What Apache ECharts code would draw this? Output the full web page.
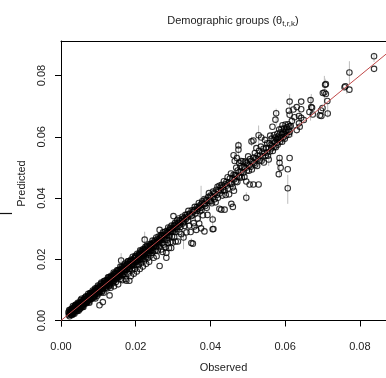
<!DOCTYPE html>
<html>
<head>
<meta charset="utf-8">
<title>Demographic groups</title>
<script src="https://cdn.jsdelivr.net/npm/echarts@6/dist/echarts.min.js"></script>
<style>
  html, body { margin: 0; padding: 0; background: #fff; }
  #chart { width: 386px; height: 378px; }
</style>
</head>
<body>
<div id="chart"></div>
<script>
// [observed, predicted] pairs
const lowBand = [
  [0.0020,0.0027],[0.0021,0.0018],[0.0022,0.0034],[0.0023,0.0014],[0.0024,0.0026],[0.0026,0.0020],
  [0.0026,0.0031],[0.0027,0.0026],[0.0028,0.0038],[0.0029,0.0023],[0.0030,0.0018],[0.0031,0.0034],
  [0.0032,0.0047],[0.0033,0.0029],[0.0034,0.0026],[0.0034,0.0035],[0.0035,0.0044],[0.0036,0.0022],
  [0.0037,0.0035],[0.0038,0.0044],[0.0039,0.0032],[0.0040,0.0051],[0.0041,0.0038],[0.0042,0.0046],
  [0.0043,0.0043],[0.0044,0.0039],[0.0045,0.0058],[0.0046,0.0036],[0.0047,0.0055],[0.0048,0.0045],
  [0.0049,0.0051],[0.0050,0.0037],[0.0051,0.0057],[0.0052,0.0051],[0.0053,0.0067],[0.0054,0.0047],
  [0.0055,0.0058],[0.0056,0.0045],[0.0057,0.0066],[0.0058,0.0054],[0.0059,0.0060],[0.0060,0.0044],
  [0.0061,0.0066],[0.0062,0.0060],[0.0063,0.0074],[0.0064,0.0056],[0.0065,0.0069],[0.0066,0.0061],
  [0.0067,0.0079],[0.0068,0.0056],[0.0069,0.0071],[0.0070,0.0067],[0.0071,0.0079],[0.0072,0.0063],
  [0.0073,0.0087],[0.0074,0.0073],[0.0075,0.0080],[0.0076,0.0058],[0.0077,0.0080],[0.0078,0.0072],
  [0.0079,0.0089],[0.0080,0.0078],[0.0081,0.0088],[0.0082,0.0071],[0.0083,0.0084],[0.0084,0.0079],
  [0.0085,0.0098],[0.0086,0.0078],[0.0087,0.0091],[0.0088,0.0074],[0.0089,0.0098],[0.0090,0.0087],
  [0.0091,0.0097],[0.0092,0.0072],[0.0093,0.0095],[0.0094,0.0087],[0.0095,0.0106],[0.0096,0.0095],
  [0.0097,0.0102],[0.0098,0.0088],[0.0099,0.0114],[0.0100,0.0096],
  [0.0025,0.0026],[0.0028,0.0025],[0.0031,0.0039],[0.0033,0.0023],[0.0036,0.0040],[0.0039,0.0051],
  [0.0041,0.0032],[0.0044,0.0050],[0.0047,0.0032],[0.0049,0.0059],[0.0052,0.0046],[0.0055,0.0071],
  [0.0058,0.0045],[0.0060,0.0067],[0.0063,0.0057],[0.0066,0.0076],[0.0069,0.0060],[0.0072,0.0075],
  [0.0075,0.0061],[0.0078,0.0090],[0.0080,0.0071],[0.0083,0.0091],[0.0086,0.0088],[0.0089,0.0077],
  [0.0091,0.0104],[0.0094,0.0098],[0.0097,0.0081],[0.0099,0.0106],
  [0.0022,0.0022],[0.0024,0.0033],[0.0027,0.0019],[0.0029,0.0030],[0.0032,0.0025],[0.0035,0.0037],
  [0.0037,0.0045],[0.0040,0.0036],[0.0043,0.0030],[0.0045,0.0045],[0.0048,0.0052],[0.0050,0.0047],
  [0.0053,0.0041],[0.0056,0.0061],[0.0059,0.0050],[0.0061,0.0055],[0.0064,0.0069],[0.0067,0.0059],
  [0.0070,0.0073],[0.0073,0.0066],[0.0076,0.0082],[0.0079,0.0069],[0.0082,0.0085],[0.0085,0.0077],
  [0.0088,0.0093],[0.0090,0.0082],[0.0093,0.0088],[0.0096,0.0103],[0.0098,0.0095]
];

const lowerMidBand = [
  [0.0101,0.0110],[0.0102,0.0097],[0.0103,0.0050],[0.0104,0.0106],[0.0105,0.0093],[0.0106,0.0119],
  [0.0107,0.0104],[0.0108,0.0114],[0.0109,0.0092],[0.0110,0.0111],[0.0111,0.0122],[0.0112,0.0060],
  [0.0112,0.0105],[0.0113,0.0117],[0.0114,0.0091],[0.0115,0.0129],[0.0116,0.0114],[0.0117,0.0124],
  [0.0118,0.0107],[0.0119,0.0122],[0.0120,0.0114],[0.0121,0.0108],[0.0122,0.0132],[0.0123,0.0122],
  [0.0124,0.0105],[0.0125,0.0130],[0.0126,0.0141],[0.0127,0.0119],[0.0128,0.0130],[0.0129,0.0115],
  [0.0130,0.0082],[0.0130,0.0139],[0.0131,0.0127],[0.0132,0.0138],[0.0133,0.0107],[0.0134,0.0146],
  [0.0135,0.0133],[0.0136,0.0126],[0.0137,0.0141],[0.0138,0.0122],[0.0139,0.0147],[0.0140,0.0135],
  [0.0141,0.0157],[0.0142,0.0112],[0.0143,0.0144],[0.0144,0.0135],[0.0145,0.0156],[0.0146,0.0143],
  [0.0147,0.0126],[0.0148,0.0154],[0.0149,0.0137],[0.0150,0.0164],[0.0151,0.0145],[0.0152,0.0155],
  [0.0153,0.0118],[0.0154,0.0163],[0.0155,0.0154],[0.0156,0.0142],[0.0157,0.0164],[0.0158,0.0150],
  [0.0159,0.0176],[0.0160,0.0136],[0.0161,0.0196],[0.0161,0.0163],[0.0162,0.0152],[0.0163,0.0175],
  [0.0164,0.0160],[0.0165,0.0132],[0.0166,0.0171],[0.0167,0.0152],[0.0168,0.0178],[0.0169,0.0167],
  [0.0170,0.0151],[0.0171,0.0186],[0.0172,0.0165],[0.0173,0.0135],[0.0174,0.0178],[0.0175,0.0130],
  [0.0176,0.0165],[0.0177,0.0186],[0.0178,0.0175],[0.0179,0.0153],[0.0180,0.0193],[0.0181,0.0173],
  [0.0182,0.0183],[0.0183,0.0130],[0.0184,0.0168],[0.0185,0.0192],[0.0186,0.0182],[0.0187,0.0145],
  [0.0188,0.0199],[0.0189,0.0179],[0.0190,0.0193],[0.0191,0.0166],[0.0192,0.0208],[0.0193,0.0187],
  [0.0194,0.0180],[0.0195,0.0153],[0.0196,0.0204],[0.0197,0.0195],[0.0198,0.0169],[0.0199,0.0211],
  [0.0200,0.0191],[0.0201,0.0205],[0.0202,0.0182],[0.0203,0.0160],[0.0204,0.0218],[0.0205,0.0200],
  [0.0206,0.0193],[0.0207,0.0213],[0.0208,0.0181],[0.0209,0.0219],[0.0210,0.0207],[0.0211,0.0168],
  [0.0212,0.0229],[0.0213,0.0202],[0.0214,0.0216],[0.0215,0.0189],[0.0216,0.0225],[0.0217,0.0211],
  [0.0218,0.0201],[0.0219,0.0176],[0.0220,0.0233],[0.0221,0.0219],[0.0222,0.0210],[0.0223,0.0196],
  [0.0224,0.0264],[0.0224,0.0229],[0.0225,0.0217],[0.0226,0.0241],[0.0227,0.0207],[0.0228,0.0185],
  [0.0229,0.0232],[0.0230,0.0220],[0.0231,0.0242],[0.0232,0.0204],[0.0233,0.0229],[0.0234,0.0241],
  [0.0235,0.0220],[0.0236,0.0192],[0.0237,0.0250],[0.0238,0.0231],[0.0239,0.0240],[0.0240,0.0212],
  [0.0241,0.0250],[0.0242,0.0230],[0.0243,0.0247],[0.0244,0.0221],[0.0245,0.0261],[0.0246,0.0243],
  [0.0247,0.0229],[0.0248,0.0205],[0.0249,0.0255],
  [0.0104,0.0096],[0.0108,0.0124],[0.0111,0.0097],[0.0115,0.0118],[0.0118,0.0130],[0.0122,0.0113],
  [0.0125,0.0123],[0.0128,0.0141],[0.0132,0.0114],[0.0135,0.0142],[0.0139,0.0136],[0.0142,0.0152],
  [0.0146,0.0151],[0.0150,0.0140],[0.0153,0.0165],[0.0157,0.0153],[0.0160,0.0168],[0.0164,0.0147],
  [0.0168,0.0169],[0.0171,0.0159],[0.0175,0.0181],[0.0179,0.0193],[0.0182,0.0169],[0.0186,0.0196],
  [0.0190,0.0183],[0.0193,0.0198],[0.0197,0.0182],[0.0200,0.0209],[0.0204,0.0196],[0.0208,0.0211],
  [0.0212,0.0198],[0.0215,0.0227],[0.0219,0.0220],[0.0222,0.0230],[0.0226,0.0221],[0.0230,0.0244],
  [0.0233,0.0215],[0.0237,0.0236],[0.0241,0.0227],[0.0245,0.0253],
  [0.0101,0.0088],[0.0105,0.0112],[0.0109,0.0105],[0.0113,0.0103],[0.0117,0.0115],[0.0121,0.0126],
  [0.0124,0.0118],[0.0127,0.0133],[0.0131,0.0120],[0.0134,0.0131],[0.0138,0.0143],[0.0141,0.0129],
  [0.0145,0.0141],[0.0149,0.0153],[0.0152,0.0146],[0.0156,0.0159],[0.0159,0.0149],[0.0163,0.0161],
  [0.0167,0.0172],[0.0170,0.0165],[0.0174,0.0170],[0.0178,0.0184],[0.0181,0.0176],[0.0185,0.0181],
  [0.0189,0.0194],[0.0192,0.0184],[0.0196,0.0191],[0.0199,0.0203],[0.0203,0.0197],[0.0207,0.0204],
  [0.0211,0.0215],[0.0214,0.0207],[0.0218,0.0222],[0.0221,0.0212],[0.0225,0.0235],[0.0228,0.0226],
  [0.0232,0.0236],[0.0235,0.0230],[0.0239,0.0246],[0.0243,0.0237],[0.0247,0.0250]
];

const midBand = [
  [0.0250,0.0243],[0.0251,0.0261],[0.0252,0.0228],[0.0253,0.0256],[0.0254,0.0241],[0.0255,0.0271],
  [0.0256,0.0210],[0.0257,0.0255],[0.0258,0.0265],[0.0259,0.0229],[0.0260,0.0251],[0.0261,0.0274],
  [0.0262,0.0258],[0.0263,0.0242],[0.0264,0.0178],[0.0264,0.0296],[0.0265,0.0270],[0.0266,0.0254],
  [0.0267,0.0278],[0.0268,0.0232],[0.0269,0.0268],[0.0270,0.0278],[0.0271,0.0253],[0.0272,0.0224],
  [0.0273,0.0288],[0.0274,0.0268],[0.0275,0.0248],[0.0276,0.0280],[0.0277,0.0263],[0.0278,0.0290],
  [0.0279,0.0239],[0.0280,0.0277],[0.0282,0.0205],[0.0282,0.0221],[0.0283,0.0292],[0.0284,0.0264],
  [0.0285,0.0287],[0.0286,0.0253],[0.0287,0.0304],[0.0288,0.0278],[0.0289,0.0237],[0.0290,0.0296],
  [0.0291,0.0275],[0.0292,0.0303],[0.0293,0.0256],[0.0294,0.0290],[0.0295,0.0237],[0.0296,0.0310],
  [0.0297,0.0274],[0.0298,0.0299],[0.0299,0.0255],[0.0300,0.0291],[0.0301,0.0341],[0.0302,0.0310],
  [0.0303,0.0273],[0.0304,0.0302],[0.0305,0.0318],[0.0306,0.0289],[0.0307,0.0258],[0.0308,0.0313],
  [0.0310,0.0299],[0.0311,0.0327],[0.0313,0.0258],[0.0314,0.0308],[0.0315,0.0333],[0.0315,0.0318],
  [0.0317,0.0289],[0.0318,0.0327],[0.0320,0.0305],[0.0322,0.0282],[0.0323,0.0325],[0.0325,0.0339],
  [0.0326,0.0317],[0.0328,0.0271],[0.0329,0.0335],[0.0331,0.0309],[0.0333,0.0345],[0.0334,0.0331],
  [0.0336,0.0288],[0.0338,0.0346],[0.0340,0.0326],[0.0341,0.0358],[0.0343,0.0310],[0.0345,0.0346],
  [0.0347,0.0289],[0.0349,0.0253],[0.0350,0.0360],[0.0351,0.0344],[0.0353,0.0251],[0.0355,0.0318],
  [0.0356,0.0360],[0.0357,0.0307],[0.0358,0.0371],[0.0360,0.0350],[0.0362,0.0296],[0.0364,0.0371],
  [0.0366,0.0333],[0.0367,0.0365],[0.0369,0.0384],[0.0370,0.0317],[0.0372,0.0357],[0.0374,0.0379],
  [0.0375,0.0301],[0.0376,0.0360],[0.0378,0.0389],[0.0380,0.0344],[0.0382,0.0378],[0.0384,0.0291],
  [0.0384,0.0397],[0.0386,0.0374],[0.0388,0.0394],[0.0390,0.0368],[0.0392,0.0345],[0.0394,0.0403],
  [0.0396,0.0416],[0.0398,0.0390],
  [0.0253,0.0249],[0.0258,0.0256],[0.0262,0.0264],[0.0267,0.0262],[0.0271,0.0275],[0.0276,0.0272],
  [0.0281,0.0284],[0.0285,0.0280],[0.0290,0.0289],[0.0295,0.0300],[0.0299,0.0294],[0.0304,0.0309],
  [0.0309,0.0306],[0.0314,0.0320],[0.0319,0.0314],[0.0324,0.0330],[0.0329,0.0322],[0.0334,0.0338],
  [0.0339,0.0337],[0.0344,0.0349],[0.0349,0.0341],[0.0354,0.0355],[0.0359,0.0362],[0.0364,0.0358],
  [0.0369,0.0372],[0.0374,0.0368],[0.0379,0.0383],[0.0385,0.0381],[0.0390,0.0392],[0.0395,0.0391]
];

const upperBand = [
  [0.0400,0.0408],[0.0401,0.0389],[0.0403,0.0406],[0.0404,0.0383],[0.0406,0.0330],[0.0406,0.0298],
  [0.0407,0.0421],[0.0408,0.0404],[0.0408,0.0299],[0.0410,0.0416],[0.0411,0.0396],[0.0413,0.0414],
  [0.0414,0.0386],[0.0416,0.0427],[0.0417,0.0410],[0.0419,0.0437],[0.0420,0.0401],[0.0422,0.0426],
  [0.0424,0.0440],[0.0424,0.0365],[0.0425,0.0415],[0.0427,0.0434],[0.0428,0.0426],[0.0429,0.0362],
  [0.0430,0.0443],[0.0432,0.0408],[0.0433,0.0435],[0.0435,0.0427],[0.0436,0.0455],[0.0438,0.0362],
  [0.0438,0.0425],[0.0440,0.0445],[0.0441,0.0410],[0.0443,0.0453],[0.0444,0.0441],[0.0446,0.0468],
  [0.0447,0.0431],[0.0449,0.0450],[0.0450,0.0412],[0.0452,0.0464],[0.0453,0.0447],[0.0455,0.0480],
  [0.0456,0.0381],[0.0457,0.0446],[0.0459,0.0465],[0.0460,0.0435],[0.0460,0.0371],[0.0462,0.0540],
  [0.0462,0.0476],[0.0463,0.0424],[0.0464,0.0461],[0.0465,0.0521],[0.0466,0.0475],[0.0468,0.0454],
  [0.0469,0.0499],[0.0470,0.0472],[0.0471,0.0531],[0.0472,0.0452],[0.0473,0.0490],[0.0475,0.0572],
  [0.0475,0.0558],[0.0476,0.0470],[0.0477,0.0515],[0.0478,0.0486],[0.0479,0.0467],[0.0480,0.0504],
  [0.0482,0.0521],[0.0482,0.0485],[0.0484,0.0467],[0.0485,0.0500],[0.0487,0.0520],[0.0488,0.0483],
  [0.0490,0.0501],[0.0491,0.0469],[0.0493,0.0519],[0.0494,0.0498],[0.0496,0.0454],[0.0496,0.0401],
  [0.0497,0.0515],[0.0498,0.0490],[0.0500,0.0509],[0.0501,0.0536],[0.0503,0.0489],[0.0504,0.0506],
  [0.0505,0.0444],[0.0506,0.0527],[0.0508,0.0502],[0.0509,0.0521],[0.0510,0.0585],[0.0511,0.0493],
  [0.0513,0.0518],[0.0515,0.0588],[0.0515,0.0444],[0.0516,0.0532],[0.0517,0.0514],[0.0519,0.0547],
  [0.0520,0.0509],[0.0522,0.0530],[0.0523,0.0563],[0.0525,0.0505],[0.0526,0.0539],[0.0527,0.0528],
  [0.0529,0.0605],[0.0529,0.0444],[0.0530,0.0554],[0.0532,0.0523],[0.0533,0.0539],[0.0535,0.0568],
  [0.0536,0.0598],[0.0537,0.0522],[0.0539,0.0549],[0.0540,0.0536],[0.0542,0.0561],[0.0543,0.0516],
  [0.0545,0.0548],[0.0546,0.0590],[0.0548,0.0538],[0.0549,0.0563],[0.0551,0.0549],[0.0552,0.0579],
  [0.0554,0.0538],[0.0556,0.0526],[0.0556,0.0563],[0.0558,0.0579],[0.0559,0.0552],[0.0560,0.0604],
  [0.0561,0.0573],[0.0563,0.0562],[0.0564,0.0594],[0.0566,0.0633],[0.0566,0.0571],[0.0567,0.0554],
  [0.0569,0.0587],[0.0570,0.0606],[0.0571,0.0567],[0.0572,0.0582],[0.0574,0.0656],[0.0574,0.0598],
  [0.0575,0.0566],[0.0576,0.0677],[0.0577,0.0592],[0.0578,0.0580],[0.0579,0.0610],[0.0580,0.0574],
  [0.0581,0.0601],[0.0582,0.0590],[0.0583,0.0478],[0.0584,0.0624],[0.0585,0.0531],[0.0585,0.0515],
  [0.0585,0.0598],[0.0586,0.0584],[0.0587,0.0614],[0.0588,0.0499],[0.0589,0.0595],[0.0590,0.0626],
  [0.0591,0.0607],[0.0592,0.0584],[0.0593,0.0638],[0.0594,0.0616],[0.0595,0.0598],[0.0597,0.0627],
  [0.0598,0.0609],[0.0599,0.0594],[0.0601,0.0640],[0.0602,0.0620],[0.0603,0.0604],[0.0605,0.0631],
  [0.0606,0.0615],[0.0607,0.0494],[0.0607,0.0432],[0.0608,0.0641],[0.0609,0.0623],[0.0610,0.0685],
  [0.0610,0.0607],[0.0611,0.0634],[0.0612,0.0672],[0.0612,0.0531],[0.0612,0.0715],[0.0612,0.0616]
];

const topPoints = [
  [0.0615,0.0635],[0.0618,0.0652],[0.0622,0.0689],[0.0625,0.0664],[0.0631,0.0697],[0.0631,0.0622],
  [0.0637,0.0668],[0.0637,0.0644],[0.0639,0.0633],[0.0643,0.0715],[0.0643,0.0690],[0.0643,0.0662],
  [0.0650,0.0655],[0.0665,0.0681],[0.0668,0.0720],[0.0670,0.0697],[0.0672,0.0695],[0.0674,0.0673],
  [0.0693,0.0670],[0.0696,0.0686],[0.0697,0.0668],[0.0700,0.0694],[0.0701,0.0743],[0.0705,0.0745],
  [0.0707,0.0770],[0.0709,0.0740],[0.0709,0.0772],[0.0713,0.0717],[0.0714,0.0676],[0.0759,0.0762],
  [0.0761,0.0765],[0.0772,0.0754],[0.0772,0.0810],[0.0838,0.0863],[0.0838,0.0822]
];

// [observed, lower, upper] of the grey interval bars that show
const errorBars = [
  [0.0707,0.0755,0.0790],[0.0612,0.0670,0.0740],[0.0576,0.0637,0.0692],[0.0639,0.0622,0.0687],
  [0.0668,0.0653,0.0730],[0.0714,0.0663,0.0708],[0.0529,0.0573,0.0637],[0.0475,0.0531,0.0586],
  [0.0465,0.0514,0.0545],[0.0607,0.0381,0.0476],[0.0585,0.0467,0.0541],[0.0556,0.0505,0.0563],
  [0.0496,0.0387,0.0419],[0.0460,0.0425,0.0445],[0.0375,0.0345,0.0440],[0.0406,0.0290,0.0345],
  [0.0349,0.0240,0.0268],[0.0510,0.0570,0.0600],[0.0328,0.0233,0.0285],[0.0772,0.0772,0.0847],
  [0.0705,0.0703,0.0799],[0.0838,0.0845,0.0875],[0.0765,0.0740,0.0776],[0.0670,0.0676,0.0740],
  [0.0285,0.0242,0.0281],[0.0371,0.0329,0.0393],[0.0161,0.0188,0.0220],[0.0224,0.0242,0.0290],
  [0.0596,0.0580,0.0650],[0.0620,0.0600,0.0660],[0.0545,0.0545,0.0600],[0.0440,0.0420,0.0465],
  [0.0300,0.0285,0.0330],[0.0250,0.0230,0.0270]
];

const refLine = [0, 0.1];
const tickValues = [0, 0.02, 0.04, 0.06, 0.08];

const allPoints = lowBand.concat(lowerMidBand, midBand, upperBand, topPoints);
const font = 'Liberation Sans, Arial, sans-serif';

const chart = echarts.init(document.getElementById('chart'));
chart.setOption({
  animation: false,
  backgroundColor: '#fff',
  title: {
    text: '{a|Demographic groups (θ}{s|t,r,k}{a|)}',
    left: 228,
    top: 8,
    textAlign: 'center',
    textStyle: {
      fontWeight: 'normal',
      rich: {
        a: { fontFamily: font, fontSize: 11, fontWeight: 'normal', color: '#222', lineHeight: 16 },
        s: { fontFamily: font, fontSize: 8, fontWeight: 'normal', color: '#222', lineHeight: 16, padding: [6, 0, 0, 0] }
      }
    }
  },
  grid: { left: 61, top: 41, right: 0, bottom: 47 },
  xAxis: [
    {
      type: 'value',
      min: 0,
      max: 0.087,
      splitLine: { show: false },
      axisLine: { lineStyle: { color: '#000' } },
      axisTick: { length: 6, lineStyle: { color: '#000' }, customValues: tickValues },
      axisLabel: {
        customValues: tickValues,
        margin: 15,
        fontFamily: font,
        fontSize: 11,
        color: '#222',
        formatter: v => v.toFixed(2)
      },
      name: 'Observed',
      nameLocation: 'middle',
      nameGap: 36,
      nameTextStyle: { fontFamily: font, fontSize: 11, color: '#222' }
    },
    {
      type: 'value',
      position: 'top',
      min: 0,
      max: 0.087,
      splitLine: { show: false },
      axisLine: { lineStyle: { color: '#000' } },
      axisTick: { show: false },
      axisLabel: { show: false }
    }
  ],
  yAxis: {
    type: 'value',
    min: -0.0018,
    max: 0.0913,
    splitLine: { show: false },
    axisLine: { lineStyle: { color: '#000' } },
    axisTick: { length: 6, lineStyle: { color: '#000' }, customValues: tickValues },
    axisLabel: {
      customValues: tickValues,
      rotate: 90,
      margin: 14,
      fontFamily: font,
      fontSize: 11,
      color: '#222',
      formatter: v => v.toFixed(2)
    },
    name: 'Predicted',
    nameLocation: 'middle',
    nameRotate: 90,
    nameGap: 34,
    nameTextStyle: { fontFamily: font, fontSize: 11, color: '#222' }
  },
  graphic: [
    {
      type: 'line',
      shape: { x1: 0, y1: 213.5, x2: 12, y2: 213.5 },
      style: { stroke: '#111', lineWidth: 1.2 }
    }
  ],
  series: [
    {
      type: 'custom',
      z: 1,
      data: errorBars,
      renderItem: (params, api) => {
        const lo = api.coord([api.value(0), api.value(1)]);
        const hi = api.coord([api.value(0), api.value(2)]);
        return {
          type: 'line',
          shape: { x1: lo[0], y1: lo[1], x2: hi[0], y2: hi[1] },
          style: { stroke: '#bdbdbd', lineWidth: 1 }
        };
      }
    },
    {
      type: 'scatter',
      z: 2,
      data: allPoints,
      symbol: 'circle',
      symbolSize: 5.5,
      itemStyle: { color: 'rgba(255,255,255,0)', borderColor: '#000', borderWidth: 1.1 }
    },
    {
      type: 'line',
      z: 3,
      data: refLine.map(v => [v, v]),
      symbol: 'none',
      lineStyle: { color: '#c04848', width: 1 }
    }
  ]
});
</script>
</body>
</html>
